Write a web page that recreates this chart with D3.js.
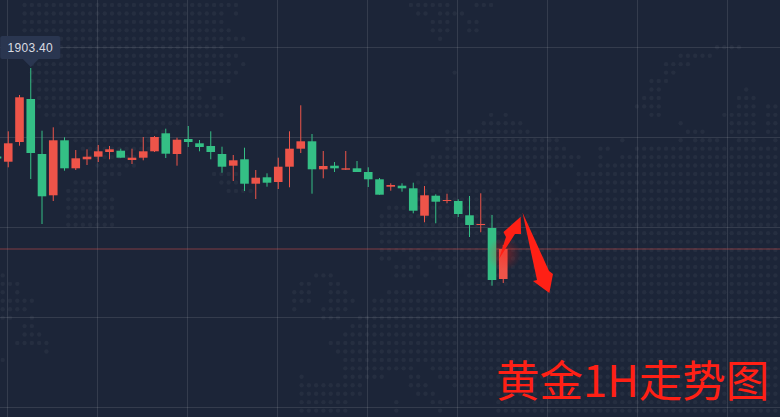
<!DOCTYPE html>
<html>
<head>
<meta charset="utf-8">
<script src="https://cdn.jsdelivr.net/npm/d3@7"></script>
<style>
    html, body { margin: 0; padding: 0; background: #1c2538; overflow: hidden; }
    svg { display: block; }
</style>
</head>
<body>
<svg id="chart"></svg>
<script>
// Candles, oldest first. The first one is cut by the left edge.
let opens = [1894.55, 1894.03, 1896.0, 1900.3, 1894.8, 1890.67, 1896.17, 1893.37, 1894.27, 1894.53, 1895.0, 1895.13,
    1894.2, 1894.43, 1895.07, 1896.87, 1894.8, 1896.3, 1895.87, 1895.6, 1894.8, 1893.63, 1894.27, 1891.83,
    1892.47, 1892.0, 1893.53, 1895.33, 1896.07, 1893.27, 1893.63, 1893.23, 1893.37, 1893.0, 1892.27, 1891.53,
    1891.63, 1891.37, 1888.63, 1890.63, 1890.1, 1890.1, 1888.67, 1887.7, 1887.4, 1882.3];
let closes = [1894.35, 1895.87, 1900.47, 1894.9, 1890.57, 1896.17, 1893.37, 1894.37, 1894.53, 1895.07, 1895.27, 1894.43,
    1894.43, 1895.07, 1896.5, 1894.83, 1896.23, 1896.0, 1895.5, 1895.0, 1893.53, 1894.17, 1891.83, 1892.43,
    1891.93, 1893.53, 1895.33, 1896.07, 1893.27, 1893.6, 1893.37, 1893.37, 1893.0, 1892.27, 1890.73, 1891.7,
    1891.37, 1889.13, 1890.67, 1890.03, 1890.2, 1888.8, 1887.7, 1887.8, 1882.2, 1885.3];
let highs = [1894.6, 1897.07, 1900.7, 1903.4, 1897.13, 1897.47, 1896.47, 1895.2, 1895.27, 1895.7, 1895.6, 1895.33,
    1895.33, 1896.5, 1896.6, 1897.33, 1896.43, 1897.6, 1896.2, 1897.07, 1895.53, 1894.7, 1895.43, 1893.2,
    1892.87, 1894.43, 1897.07, 1899.67, 1896.8, 1895.1, 1894.0, 1895.1, 1894.1, 1893.47, 1892.4, 1891.87,
    1891.87, 1891.93, 1891.6, 1890.77, 1890.83, 1890.27, 1890.6, 1890.87, 1888.7, 1885.7];
let lows = [1894.3, 1893.47, 1895.63, 1892.3, 1887.8, 1890.1, 1893.13, 1893.2, 1893.7, 1894.0, 1894.27, 1894.43,
    1893.8, 1894.17, 1895.0, 1894.4, 1893.63, 1895.5, 1895.07, 1894.27, 1892.93, 1892.1, 1891.1, 1890.3,
    1891.53, 1891.3, 1891.47, 1894.9, 1890.83, 1892.37, 1893.0, 1893.2, 1893.0, 1891.5, 1890.73, 1891.13,
    1891.03, 1888.87, 1887.97, 1887.87, 1889.87, 1888.5, 1886.5, 1886.97, 1881.63, 1881.9];

let priceTicks = [1905.5, 1896.5, 1887.5, 1878.5, 1869.5];
let timeTicks = [0, 1, 2, 3, 4, 5, 6, 7, 8];
let lastPrice = 1885.3;
let peakLabel = "1903.40";
let peakIndex = 3;
let title = "黄金1H走势图";

// Hand drawn arrows, as [candle index, price].
let arrowUp = [[44.62, 1884.3], [45.24, 1886.5], [45.02, 1887.0], [46.55, 1888.53], [46.58, 1886.8], [46.04, 1886.8]];
let arrowDown = [[46.71, 1888.95], [48.0, 1882.2], [47.64, 1882.1], [49.1, 1880.9], [49.42, 1882.8], [49.07, 1883.1]];

// Dotted world map behind the chart: one row of [first column, last column] runs per line.
let mapRows = [
    [[3, 32], [56, 61], [65, 67]],
    [[3, 30], [32, 32], [57, 58], [60, 63]],
    [[3, 30], [59, 61], [64, 65]],
    [[3, 31], [59, 61], [64, 65]],
    [[3, 33], [60, 60]],
    [[4, 30], [98, 101]],
    [[4, 32], [93, 97]],
    [[4, 31], [33, 33], [91, 94]],
    [[4, 32], [62, 62], [91, 92]],
    [[4, 31], [89, 91]],
    [[5, 27], [89, 90], [102, 102]],
    [[5, 27], [29, 30], [88, 90], [101, 103]],
    [[5, 29], [87, 90], [101, 103], [105, 106]],
    [[6, 30], [67, 67], [69, 69], [89, 90], [99, 103], [105, 106]],
    [[8, 24], [66, 71], [93, 93], [100, 103], [105, 106]],
    [[9, 22], [61, 62], [64, 72], [94, 96], [100, 103], [105, 106]],
    [[10, 20], [59, 59], [61, 76], [85, 85], [93, 93], [95, 98], [101, 103], [106, 106]],
    [[11, 20], [61, 77], [82, 83], [87, 106]],
    [[12, 19], [59, 79], [82, 82], [85, 106]],
    [[13, 18], [58, 78], [82, 106]],
    [[14, 16], [29, 33], [57, 72], [79, 106]],
    [[10, 14], [30, 33], [57, 73], [76, 76], [79, 106]],
    [[9, 14], [31, 34], [57, 75], [77, 106]],
    [[9, 15], [57, 106]],
    [[9, 15], [53, 106]],
    [[9, 15], [52, 106]],
    [[9, 15], [52, 106]],
    [[52, 106]],
    [[52, 106]],
    [[52, 57], [60, 106]],
    [[52, 53], [56, 106]],
    [[54, 57], [60, 106]],
    [[0, 0], [43, 45], [54, 56], [58, 58], [64, 106]],
    [[0, 2], [41, 42], [45, 46], [61, 61], [63, 106]],
    [[0, 0], [2, 2], [40, 42], [45, 47], [53, 106]],
    [[0, 4], [40, 42], [45, 48], [51, 106]],
    [[0, 3], [40, 40], [44, 47], [51, 106]],
    [[0, 1], [4, 4], [44, 46], [49, 106]],
    [[3, 4], [48, 106]],
    [[3, 5], [47, 106]],
    [[2, 6], [45, 106]],
    [[6, 6], [46, 106]],
    [[0, 0], [47, 106]],
    [[47, 56], [59, 106]],
    [[41, 41], [47, 52], [56, 57], [60, 106]],
    [[41, 49], [56, 58], [62, 106]],
    [[41, 49], [57, 59], [63, 106]],
    [[41, 47], [54, 54], [59, 61], [63, 65], [68, 106]],
    [[41, 47], [54, 54], [60, 60], [68, 106]],
];

let svgWidth = 780;
let svgHeight = 417;
let bodyWidth = 8.6;

let background = "#1c2538";
let upColor = "#ee5449";
let downColor = "#34bf85";
let gridColor = "rgba(255,255,255,0.11)";
let dotColor = "rgba(255,255,255,0.045)";
let arrowColor = "#ff2015";

let svg = d3.select("#chart")
    .attr("width", svgWidth)
    .attr("height", svgHeight)
    .attr("viewBox", [0, 0, svgWidth, svgHeight]);

let xScale = d3.scaleLinear().domain([0, 68]).range([-3, 762]);
let yScale = d3.scaleLinear().domain([1910.2, 1868.5]).range([0, 417]);
let gridX = d3.scaleLinear().domain([0, 8]).range([7, 727]);
let dotX = d3.scaleLinear().domain([0, 106]).range([2.7, 775.4]);
let dotY = d3.scaleLinear().domain([0, 48]).range([5, 410.6]);

let candles = opens.map((open, i) => ({
    index: i,
    open: open,
    close: closes[i],
    high: highs[i],
    low: lows[i],
    color: closes[i] >= open ? upColor : downColor,
}));

let arrowLine = d3.line()
    .x(d => xScale(d[0]))
    .y(d => yScale(d[1]))
    .curve(d3.curveLinearClosed);

function drawBackground() {
    svg.append("rect")
        .attr("width", svgWidth)
        .attr("height", svgHeight)
        .attr("fill", background);

    let dots = [];
    mapRows.forEach((runs, row) => {
        runs.forEach(run => {
            d3.range(run[0], run[1] + 1).forEach(col => dots.push({row: row, col: col}));
        });
    });

    svg.append("g")
        .classed("map", true)
        .selectAll("circle")
        .data(dots)
        .join("circle")
        .attr("cx", d => dotX(d.col))
        .attr("cy", d => dotY(d.row))
        .attr("r", 2.2)
        .attr("fill", dotColor);
}

function drawGrid() {
    svg.append("g")
        .classed("grid", true)
        .call(d3.axisRight(yScale).tickValues(priceTicks).tickSize(svgWidth).tickFormat(""));
    svg.append("g")
        .classed("grid", true)
        .call(d3.axisBottom(gridX).tickValues(timeTicks).tickSize(svgHeight).tickFormat(""));

    svg.selectAll(".grid .domain").remove();
    svg.selectAll(".grid line").attr("stroke", gridColor);

    svg.append("line")
        .classed("last-price", true)
        .attr("x1", 0)
        .attr("x2", svgWidth)
        .attr("y1", yScale(lastPrice))
        .attr("y2", yScale(lastPrice))
        .attr("stroke", "rgba(239,83,80,0.32)")
        .attr("stroke-width", 1.6);
}

function drawCandles() {
    let group = svg.append("g").classed("candles", true);

    group.selectAll("line")
        .data(candles)
        .join("line")
        .attr("x1", d => xScale(d.index))
        .attr("x2", d => xScale(d.index))
        .attr("y1", d => yScale(d.high))
        .attr("y2", d => yScale(d.low))
        .attr("stroke", d => d.color)
        .attr("stroke-width", 1);

    group.selectAll("rect")
        .data(candles)
        .join("rect")
        .attr("x", d => xScale(d.index) - bodyWidth / 2)
        .attr("y", d => yScale(Math.max(d.open, d.close)))
        .attr("width", bodyWidth)
        .attr("height", d => Math.max(1, Math.abs(yScale(d.open) - yScale(d.close))))
        .attr("fill", d => d.color);
}

function drawPeakLabel() {
    let px = xScale(peakIndex);
    let tipY = yScale(d3.max(highs));
    let label = svg.append("g").classed("peak-label", true);

    label.append("rect")
        .attr("x", px - 30.5)
        .attr("y", tipY - 32)
        .attr("width", 60)
        .attr("height", 23)
        .attr("rx", 2)
        .attr("fill", "#2a3650");
    label.append("path")
        .attr("d", `M${px - 8},${tipY - 9}L${px + 8},${tipY - 9}L${px},${tipY - 1}Z`)
        .attr("fill", "#2a3650");
    label.append("text")
        .text(peakLabel)
        .attr("x", px - 0.5)
        .attr("y", tipY - 16)
        .attr("text-anchor", "middle")
        .attr("font-family", "'Liberation Sans', sans-serif")
        .attr("font-size", 12)
        .attr("letter-spacing", 0.3)
        .attr("fill", "#d9dce2");
}

function drawAnnotations() {
    let glow = svg.append("defs")
        .append("radialGradient")
        .attr("id", "arrow-glow");
    glow.append("stop").attr("offset", "0%").attr("stop-color", "#ff2015").attr("stop-opacity", 0.38);
    glow.append("stop").attr("offset", "100%").attr("stop-color", "#ff2015").attr("stop-opacity", 0);

    svg.append("circle")
        .attr("cx", xScale(arrowUp[0][0]) + 5)
        .attr("cy", yScale(arrowUp[0][1]) - 5)
        .attr("r", 17)
        .attr("fill", "url(#arrow-glow)");

    svg.selectAll("path.arrow")
        .data([arrowUp, arrowDown])
        .join("path")
        .classed("arrow", true)
        .attr("d", arrowLine)
        .attr("fill", arrowColor);

    svg.append("text")
        .text(title)
        .attr("x", 496)
        .attr("y", 397)
        .attr("font-family", "'Noto Sans CJK SC', sans-serif")
        .attr("font-size", 43.5)
        .attr("fill", arrowColor);
}

drawBackground();
drawGrid();
drawCandles();
drawPeakLabel();
drawAnnotations();
</script>
</body>
</html>
